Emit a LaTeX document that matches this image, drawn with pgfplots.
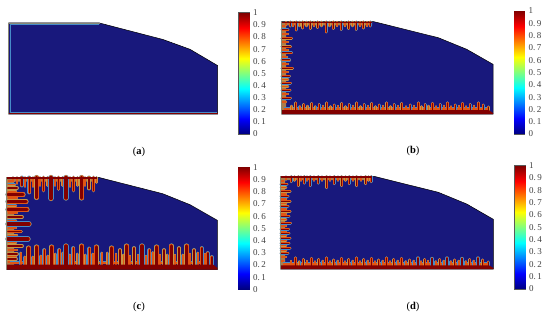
\documentclass[border=0pt]{standalone}
\usepackage{pgfplots}
\usepackage{pgfplotstable}
\usepackage{fontspec}
\setmainfont{Liberation Serif}
\pgfplotsset{compat=1.18}
\definecolor{navy}{RGB}{24,24,124}
\definecolor{fblue}{RGB}{70,140,200}
\definecolor{fgreen}{RGB}{200,150,70}
\definecolor{forange}{RGB}{225,85,20}
\definecolor{fred}{RGB}{130,0,0}
\definecolor{band}{RGB}{170,125,75}
\definecolor{edge}{RGB}{135,135,115}
\pgfplotsset{dy/.style={quiver={u=0,v=\thisrow{l}}},dx/.style={quiver={u=\thisrow{l},v=0}}}
\newcommand\rd[2]{\pgfplotstableread[row sep=\\]{a b l\\ #1}#2}
% ---- panel c
\rd{28.7 248 17\\36.7 247 18\\51.7 247 18\\66 246 19\\81.7 246 19\\96.3 247 18\\111.7 248 17\\126.7 246 19\\142 246 19\\156.7 247 18\\171.3 246 19\\186.7 246 19\\}\cBt
\rd{44.3 250 15\\59.3 250 15\\73.3 248 17\\89.3 248.5 16.5\\120 250 15\\134 248 17\\149.3 250 15\\164 250 15\\179 248 17\\194 250 15\\201.7 248 17\\207.7 253 12\\211.7 257 8\\}\cBm
\rd{20.7 253 12\\24.7 257 8\\32.7 257 8\\40.7 256 9\\47.7 256 9\\55.3 254 11\\62.7 253 12\\69.7 255 10\\77.3 254 11\\85.3 255 10\\92.7 254 11\\101.7 253 12\\107.3 253 12\\116 254 11\\123.3 255 10\\130 256 9\\138 255 10\\146 256 9\\152.7 252.5 12.5\\160 255 10\\167.3 255 10\\175 255 10\\182.7 255 10\\190 254 11\\197.7 253 12\\205 254 11\\}\cBs
\rd{36.7 177.5 20\\51 177.5 21\\66 177.5 20.5\\81.7 177.5 20.5\\}\cTt
\rd{29.3 177.5 15\\43.5 177.5 13\\58.5 177.5 11.5\\73.5 177.5 13\\89 177.5 11\\93.5 177.5 13\\21.7 177.5 8\\}\cTm
\rd{13 177.5 4\\17 177.5 6\\25 177.5 9\\33 177.5 9\\40 177.5 8\\47.5 177.5 8\\55 177.5 8\\62.5 177.5 8\\70 177.5 9\\77.5 177.5 8\\85 177.5 8\\96.5 177.5 5\\}\cTs
\rd{8 201.7 18\\8 209.5 19\\8 224 21\\8 239 20\\8 194.5 15\\}\cLt
\rd{8 217 14\\8 231.5 13\\8 246 14\\8 188 9\\8 254 9\\8 259 8\\}\cLm
\rd{8 181 6\\8 184.5 7\\8 191.3 8\\8 198 9\\8 205.5 8\\8 213 9\\8 220.5 8\\8 228 8\\8 235.3 9\\8 242.5 8\\8 250 9\\8 256.5 8\\8 262 6\\}\cLs
% ---- panel b
\rd{295.7 103 7.5\\311.7 103.5 7\\326.7 103 7.5\\341.7 103.5 7\\356.7 103 7.5\\371.7 103.5 7\\386.7 103 7.5\\401.7 103.5 7\\418.3 103 7.5\\432.3 103.5 7\\447.3 103 7.5\\462.3 103.5 7\\478.3 103 7.5\\}\bBt
\rd{303.7 104.5 6\\319 104.5 6\\334 105 5.5\\349 104.5 6\\364 104.5 6\\379 105 5.5\\394 104.5 6\\410 105 5.5\\425 104.5 6\\440 104.5 6\\455 105 5.5\\470 104.5 6\\483 105 5.5\\488.3 107 3.5\\}\bBm
\rd{291.5 106 4.5\\299.7 106.5 4\\307.5 106 4.5\\315.4 106.5 4\\323 106 4.5\\330.5 106.5 4\\338 106 4.5\\345.5 106.5 4\\353 106 4.5\\360.5 106.5 4\\368 106 4.5\\375.5 106.5 4\\383 106 4.5\\390.5 106.5 4\\398 106 4.5\\406 106.5 4\\414 106 4.5\\421.5 106.5 4\\428.5 106 4.5\\436 106.5 4\\444 106 4.5\\451 106.5 4\\459 106 4.5\\466 106.5 4\\474 106 4.5\\}\bBs
\rd{296 22 8\\302.7 22 6\\310.3 22 6.5\\317.7 22 5.5\\326 22 10\\333.3 22 6.5\\341 22 7.5\\348.7 22 6.5\\356 22 7.5\\363.3 22 6\\370 22 4\\290 22 4\\}\bTm
\rd{286 22 3\\293 22 4\\299.5 22 4\\306.5 22 4\\314 22 4\\321.5 22 4\\329.5 22 4\\337 22 4\\345 22 4\\352.5 22 4\\360 22 4\\367 22 4\\}\bTs
\rd{282 30 6\\282 38.3 9.5\\282 46.7 8.5\\282 53 9.5\\282 60 7.5\\282 68.3 10.5\\282 76 7.5\\282 83 8.5\\282 90 8\\282 98 8.5\\}\bLm
\rd{282 26 3\\282 34 6\\282 42 6\\282 50 6\\282 57 5\\282 64 6\\282 72 6\\282 79.5 6\\282 86.5 6\\282 94 6\\282 102 4\\}\bLs
% ---- panel d
\rd{295.4 258 7.5\\311.4 258.5 7\\326.4 258 7.5\\341.4 258.5 7\\356.4 258 7.5\\371.4 258.5 7\\386.4 258 7.5\\401.4 258.5 7\\418 258 7.5\\432 258.5 7\\447 258 7.5\\462 258.5 7\\478 258 7.5\\}\dBt
\rd{303.4 259.5 6\\318.7 259.5 6\\333.7 260 5.5\\348.7 259.5 6\\363.7 259.5 6\\378.7 260 5.5\\393.7 259.5 6\\409.7 260 5.5\\424.7 259.5 6\\439.7 259.5 6\\454.7 260 5.5\\469.7 259.5 6\\482.7 260 5.5\\488 262 3.5\\}\dBm
\rd{291.2 261 4.5\\299.4 261.5 4\\307.2 261 4.5\\315.1 261.5 4\\322.7 261 4.5\\330.2 261.5 4\\337.7 261 4.5\\345.2 261.5 4\\352.7 261 4.5\\360.2 261.5 4\\367.7 261 4.5\\375.2 261.5 4\\382.7 261 4.5\\390.2 261.5 4\\397.7 261 4.5\\405.7 261.5 4\\413.7 261 4.5\\421.2 261.5 4\\428.2 261 4.5\\435.7 261.5 4\\443.7 261 4.5\\450.7 261.5 4\\458.7 261 4.5\\465.7 261.5 4\\473.7 261 4.5\\}\dBs
\rd{298.3 176.6 9\\304 176.6 6.5\\310 176.6 9\\318 176.6 6.5\\326.7 176.6 11\\334 176.6 7\\341.7 176.6 9\\349 176.6 7\\356.7 176.6 9\\365.7 176.6 7\\371 176.6 5\\291 176.6 5\\}\dTm
\rd{286 176.6 3\\294.5 176.6 4\\301 176.6 4\\307 176.6 4\\314 176.6 4\\322 176.6 4\\330 176.6 4\\338 176.6 4\\345.5 176.6 4\\353 176.6 4\\361 176.6 4\\368.5 176.6 4\\}\dTs
\rd{281 184 6\\281 191.3 9\\281 196 7\\281 201.3 9\\281 206 7\\281 211.3 9\\281 216 8\\281 223 9.5\\281 229 7.5\\281 233 8\\281 238 9\\281 243 8\\281 248 9\\281 253 7\\}\dLm
\rd{281 181 3\\281 187.5 5\\281 193.8 5\\281 198.7 5\\281 203.6 5\\281 208.7 5\\281 213.7 5\\281 219.5 5\\281 226 5\\281 231 5\\281 235.5 5\\281 240.5 5\\281 245.5 5\\281 250.5 5\\281 257 5\\281 261 3\\}\dLs
\newcommand\lay[4]{\addplot[draw=#3,mark=none,forget plot,solid,line width=#4bp,line cap=round,#2]
  table[x=a,y=b]{#1};}
\newcommand\fing[5]{\lay{#1}{#2}{fblue}{#3}\lay{#1}{#2}{fgreen}{#4}\lay{#1}{#2}{forange}{#5}}
\newcommand\fingc[6]{\fing{#1}{#2}{#3}{#4}{#5}\lay{#1}{#2}{fred}{#6}}
\newcommand\cbar[4]{%
\begin{axis}[at={(#1bp,#2bp)},anchor=south west,scale only axis,width=#3bp,height=#4bp,
  xmin=0,xmax=1,ymin=0,ymax=1,colormap/jet,point meta min=0,point meta max=1,
  xtick=\empty,ytick={0,0.1,...,1},
  yticklabels={0,0.\,1,0.\,2,0.\,3,0.\,4,0.\,5,0.\,6,0.\,7,0.\,8,0.\,9,1},
  ytick pos=both,yticklabel pos=right,tick align=inside,
  major tick length=1.6bp,tick style={color=black!70,line width=0.4bp},
  axis line style={color=black!65,line width=0.6bp},
  yticklabel style={font=\fontsize{9bp}{10bp}\selectfont,color=black!75,xshift=0.5bp,anchor=west},
  ]
\addplot[surf,shader=interp,mesh/rows=2,point meta=y] coordinates {(0,0)(1,0)(0,1)(1,1)};
\end{axis}}
\begin{document}
\begin{tikzpicture}
\begin{axis}[at={(0,0)},anchor=south west,scale only axis,width=550bp,height=317bp,
  xmin=0,xmax=550,ymin=0,ymax=317,y dir=reverse,hide axis,clip=false,
  unbounded coords=jump]
% ===== panel a
\addplot[fill=navy,draw=black,line width=0.5bp] coordinates {(8.5,23)(99.5,23)(163,39.5)(190,49.3)(217.5,65.5)(217.5,114)(8.5,114)} --cycle;
\addplot[draw=edge,line width=1bp] coordinates {(99.5,23.3)(8.8,23.3)(8.8,113.5)};
\addplot[draw=fblue,line width=0.5bp] coordinates {(99,24.3)(9.8,24.3)(9.8,112)};
\addplot[draw=fblue,line width=0.5bp] coordinates {(9.5,111.9)(217,111.9)};
\addplot[draw=fred,line width=1.3bp] coordinates {(8.5,113.2)(217.5,113.2)};
% ===== panel b
\addplot[fill=navy,draw=black,line width=0.5bp] coordinates {(281.7,21.7)(374,21.7)(438.3,37.7)(466.7,49.3)(493,64.3)(493,114)(281.7,114)} --cycle;
\addplot[fill=band,draw=none] coordinates {(281.7,22)(372,22)(372,25.5)(286,25.5)(286,112)(281.7,112)} --cycle;
\fing{\bTs}{dy}{2.5}{2.1}{1.6}
\fing{\bLs}{dx}{2.5}{2.1}{1.6}
\fingc{\bTm}{dy}{3.0}{2.6}{2.1}{1.0}
\fingc{\bLm}{dx}{3.0}{2.6}{2.1}{1.0}
\addplot[draw=fblue,line width=4bp] coordinates {(284,108.6)(490,108.6)};
\addplot[draw=forange,line width=2.5bp] coordinates {(284,109.2)(489,109.2)};
\fing{\bBs}{dy}{2.5}{2.1}{1.6}
\fingc{\bBm}{dy}{3.0}{2.6}{2.1}{1.0}
\fingc{\bBt}{dy}{3.3}{2.9}{2.4}{1.3}
\addplot[fill=fred,draw=none] coordinates {(281.7,110.2)(489,110.2)(493,113)(493,114)(281.7,114)} --cycle;
\addplot[draw=fred,line width=1.3bp] coordinates {(282,22.4)(372,22.4)};
\addplot[draw=edge,line width=0.6bp] coordinates {(281.7,21.7)(281.7,114)};
% ===== panel c
\addplot[fill=navy,draw=black,line width=0.5bp] coordinates {(6.7,177.3)(98.3,177.3)(162.7,193.7)(190,204.7)(217.3,220.3)(217.3,269.7)(6.7,269.7)} --cycle;
\addplot[fill=band,draw=none] coordinates {(6.7,177.5)(97,177.5)(97,181.5)(14,181.5)(14,265)(6.7,265)} --cycle;
\fing{\cTs}{dy}{2.6}{2.2}{1.6}
\fing{\cLs}{dx}{2.4}{2.0}{1.5}
\fingc{\cTm}{dy}{3.8}{3.4}{2.8}{1.6}
\fingc{\cLm}{dx}{3.8}{3.4}{2.8}{1.6}
\fingc{\cTt}{dy}{5.2}{4.8}{4.2}{3.2}
\fingc{\cLt}{dx}{5.2}{4.8}{4.2}{3.2}
\addplot[draw=fblue,line width=3.5bp] coordinates {(10,262.6)(213,262.6)};
\addplot[draw=forange,line width=2bp] coordinates {(10,263.4)(213,263.4)};
\fing{\cBs}{dy}{2.6}{2.2}{1.6}
\fingc{\cBm}{dy}{3.8}{3.4}{2.8}{1.6}
\fingc{\cBt}{dy}{5.2}{4.8}{4.2}{3.2}
\addplot[fill=fred,draw=none] coordinates {(6.7,264.5)(213,264.5)(217.3,268)(217.3,269.7)(6.7,269.7)} --cycle;
\addplot[draw=fred,line width=1.5bp] coordinates {(7,178.1)(96.5,178.1)};
\addplot[draw=edge,line width=0.6bp] coordinates {(6.7,177.3)(6.7,269.7)};
% ===== panel d
\addplot[fill=navy,draw=black,line width=0.5bp] coordinates {(280.7,176.3)(374,176.3)(438.3,192.3)(466.7,204)(493.3,219.3)(493.3,269)(280.7,269)} --cycle;
\addplot[fill=band,draw=none] coordinates {(280.7,176.6)(372,176.6)(372,180)(285,180)(285,266)(280.7,266)} --cycle;
\fing{\dTs}{dy}{2.5}{2.1}{1.6}
\fing{\dLs}{dx}{2.5}{2.1}{1.6}
\fingc{\dTm}{dy}{3.0}{2.6}{2.1}{1.0}
\fingc{\dLm}{dx}{3.0}{2.6}{2.1}{1.0}
\addplot[draw=fblue,line width=4bp] coordinates {(283,263.7)(490,263.7)};
\addplot[draw=forange,line width=2.5bp] coordinates {(283,264.3)(489,264.3)};
\fing{\dBs}{dy}{2.5}{2.1}{1.6}
\fingc{\dBm}{dy}{3.0}{2.6}{2.1}{1.0}
\fingc{\dBt}{dy}{3.3}{2.9}{2.4}{1.3}
\addplot[fill=fred,draw=none] coordinates {(280.7,265.3)(489,265.3)(493.3,268)(493.3,269)(280.7,269)} --cycle;
\addplot[draw=fred,line width=1.3bp] coordinates {(281,177)(372,177)};
\addplot[draw=edge,line width=0.6bp] coordinates {(280.7,176.3)(280.7,269)};
% ===== captions
\node[font=\fontsize{10.5bp}{12bp}\selectfont] at (axis cs:139,152) {(\textbf{a})};
\node[font=\fontsize{10.5bp}{12bp}\selectfont] at (axis cs:413,151) {(\textbf{b})};
\node[font=\fontsize{10.5bp}{12bp}\selectfont] at (axis cs:139,307) {(\textbf{c})};
\node[font=\fontsize{10.5bp}{12bp}\selectfont] at (axis cs:413,307) {(\textbf{d})};
\end{axis}
\cbar{238.5}{183}{10.5}{121.3}
\cbar{514}{183}{10.7}{123}
\cbar{238.3}{27.7}{10.7}{122}
\cbar{514.7}{28}{10.3}{123.3}
\pgfresetboundingbox
\path[use as bounding box] (0,0) rectangle (550bp,317bp);
\end{tikzpicture}
\end{document}
